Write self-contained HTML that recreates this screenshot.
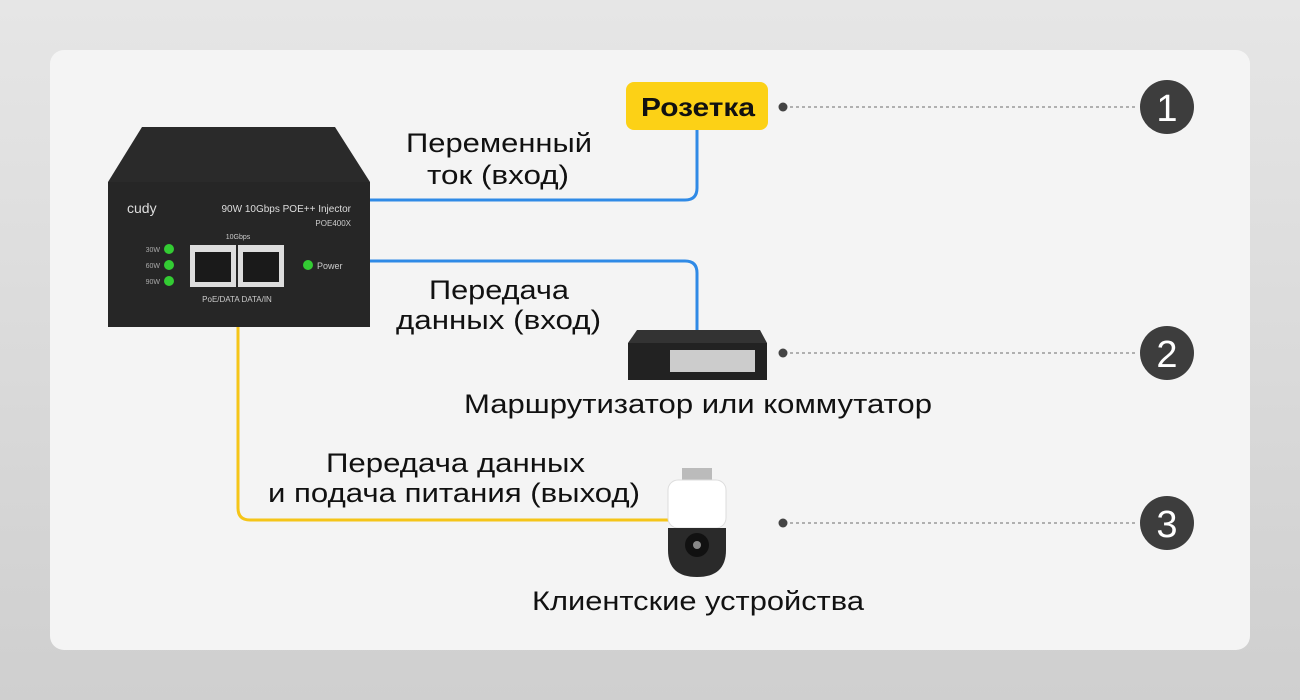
<!DOCTYPE html>
<html><head><meta charset="utf-8"><style>
html,body{margin:0;padding:0;width:1300px;height:700px;overflow:hidden;background:linear-gradient(180deg,#e6e6e6,#cfcfcf);}
svg{display:block}
text{font-family:"Liberation Sans",sans-serif}
</style></head><body>
<svg width="1300" height="700" viewBox="0 0 1300 700">
<rect x="50" y="50" width="1200" height="600" rx="14" fill="#f4f4f4"/>
<path d="M370 200 H685 Q697 200 697 188 V130" fill="none" stroke="#2f8ae6" stroke-width="3"/>
<path d="M370 261 H685 Q697 261 697 273 V330" fill="none" stroke="#2f8ae6" stroke-width="3"/>
<path d="M238 327 V508 Q238 520 250 520 H672" fill="none" stroke="#f5c518" stroke-width="3"/>
<polygon points="142,127 335,127 370,182 108,182" fill="#2a2a2a"/>
<rect x="108" y="182" width="262" height="145" fill="#262626"/>
<text x="127" y="213" font-size="14" fill="#ddd">cudy</text>
<text x="351" y="212" font-size="10" fill="#ddd" text-anchor="end">90W 10Gbps POE++ Injector</text>
<text x="351" y="226" font-size="8" fill="#ccc" text-anchor="end">POE400X</text>
<text x="238" y="239" font-size="7" fill="#ccc" text-anchor="middle">10Gbps</text>
<rect x="190" y="245" width="46" height="42" fill="#ddd"/><rect x="238" y="245" width="46" height="42" fill="#ddd"/>
<rect x="195" y="252" width="36" height="30" fill="#1a1a1a"/><rect x="243" y="252" width="36" height="30" fill="#1a1a1a"/>
<circle cx="169" cy="249" r="5" fill="#3c3"/><circle cx="169" cy="265" r="5" fill="#3c3"/><circle cx="169" cy="281" r="5" fill="#3c3"/>
<circle cx="308" cy="265" r="5" fill="#3c3"/>
<text x="317" y="269" font-size="9" fill="#ccc">Power</text>
<text x="160" y="252" font-size="7" fill="#aaa" text-anchor="end">30W</text>
<text x="160" y="268" font-size="7" fill="#aaa" text-anchor="end">60W</text>
<text x="160" y="284" font-size="7" fill="#aaa" text-anchor="end">90W</text>
<text x="237" y="302" font-size="8" fill="#ccc" text-anchor="middle">PoE/DATA  DATA/IN</text>
<rect x="626" y="82" width="142" height="48" rx="8" fill="#fcd116"/>
<text x="641" y="116" font-size="26" font-weight="bold" fill="#111" textLength="114" lengthAdjust="spacingAndGlyphs">Розетка</text>
<polygon points="637,330 760,330 767,343 628,343" fill="#333"/>
<rect x="628" y="343" width="139" height="37" fill="#222"/>
<rect x="670" y="350" width="85" height="22" fill="#ccc"/>
<rect x="682" y="468" width="30" height="12" fill="#bbb"/>
<rect x="668" y="480" width="58" height="48" rx="10" fill="#fff" stroke="#ddd"/>
<path d="M668 528 H726 V550 Q726 577 697 577 Q668 577 668 550 Z" fill="#2a2a2a"/>
<circle cx="697" cy="545" r="12" fill="#111"/><circle cx="697" cy="545" r="4" fill="#888"/>
<g font-size="27" fill="#111">
<text x="406" y="152" textLength="186" lengthAdjust="spacingAndGlyphs">Переменный</text>
<text x="427" y="184" textLength="142" lengthAdjust="spacingAndGlyphs">ток (вход)</text>
<text x="429" y="299" textLength="140" lengthAdjust="spacingAndGlyphs">Передача</text>
<text x="396" y="329" textLength="205" lengthAdjust="spacingAndGlyphs">данных (вход)</text>
<text x="464" y="413" textLength="468" lengthAdjust="spacingAndGlyphs">Маршрутизатор или коммутатор</text>
<text x="326" y="472" textLength="259" lengthAdjust="spacingAndGlyphs">Передача данных</text>
<text x="268" y="502" textLength="372" lengthAdjust="spacingAndGlyphs">и подача питания (выход)</text>
<text x="532" y="610" textLength="332" lengthAdjust="spacingAndGlyphs">Клиентские устройства</text>
</g>
<g stroke="#888" stroke-width="1.3" stroke-dasharray="3,3">
<line x1="790" y1="107" x2="1138" y2="107"/><line x1="790" y1="353" x2="1138" y2="353"/><line x1="790" y1="523" x2="1138" y2="523"/>
</g>
<g fill="#444"><circle cx="783" cy="107" r="4.5"/><circle cx="783" cy="353" r="4.5"/><circle cx="783" cy="523" r="4.5"/></g>
<g fill="#3d3d3d"><circle cx="1167" cy="107" r="27"/><circle cx="1167" cy="353" r="27"/><circle cx="1167" cy="523" r="27"/></g>
<g fill="#fff" font-size="38" text-anchor="middle">
<text x="1167" y="121">1</text><text x="1167" y="367">2</text><text x="1167" y="537">3</text>
</g>
</svg>
</body></html>
